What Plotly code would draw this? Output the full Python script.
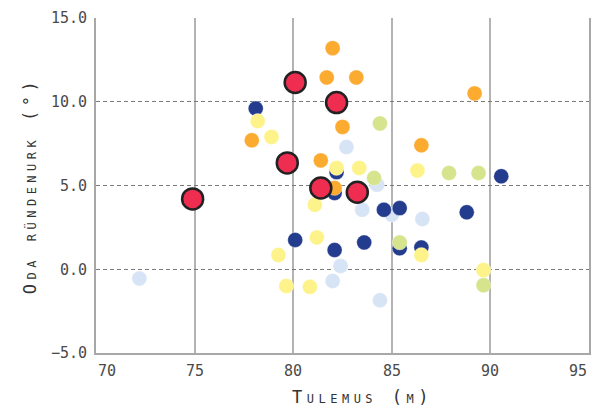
import plotly.graph_objects as go

# Measurements per group: distance (m) and release angle (degrees)
lightblue_x = [72.2, 82.7, 84.25, 83.5, 85.0, 86.55, 82.4, 82.0, 84.4]
lightblue_y = [-0.55, 7.3, 5.05, 3.55, 3.25, 3.0, 0.2, -0.7, -1.85]

blue_x = [78.1, 82.2, 82.1, 84.6, 85.4, 88.8, 90.55, 80.1, 82.1, 83.6, 85.4, 86.5]
blue_y = [9.6, 5.8, 4.55, 3.55, 3.65, 3.4, 5.55, 1.75, 1.15, 1.6, 1.25, 1.3]

green_x = [84.4, 84.1, 85.4, 87.9, 89.4, 89.65]
green_y = [8.7, 5.45, 1.6, 5.75, 5.75, -0.95]

yellow_x = [78.2, 78.9, 82.2, 83.35, 81.1, 81.2, 79.25, 79.65, 80.85, 86.3, 86.5, 89.65]
yellow_y = [8.85, 7.9, 6.05, 6.05, 3.85, 1.9, 0.85, -1.0, -1.05, 5.9, 0.85, -0.05]

orange_x = [82.0, 81.7, 83.2, 82.5, 77.9, 81.4, 82.1, 89.2, 86.5]
orange_y = [13.2, 11.45, 11.45, 8.5, 7.7, 6.5, 4.85, 10.5, 7.4]

red_x = [74.9, 80.1, 82.2, 79.7, 81.4, 83.25]
red_y = [4.2, 11.15, 9.95, 6.35, 4.85, 4.6]

x_ticks = [70, 75, 80, 85, 90, 95]
y_ticks = [-5, 0, 5, 10, 15]

groups = [
    (lightblue_x, lightblue_y, "#d6e4f5"),
    (blue_x, blue_y, "#243c8d"),
    (green_x, green_y, "#d5e48d"),
    (yellow_x, yellow_y, "#fdf38a"),
    (orange_x, orange_y, "#fbab30"),
]

fig = go.Figure()
for gx, gy, col in groups:
    fig.add_trace(go.Scatter(
        x=gx, y=gy, mode="markers",
        marker=dict(size=15, color=col, line=dict(color="rgba(255,255,255,0.6)", width=0.5)),
        showlegend=False, hoverinfo="x+y",
    ))

fig.add_trace(go.Scatter(
    x=red_x, y=red_y, mode="markers",
    marker=dict(size=21, color="#ee2d51", line=dict(color="#222222", width=2.5)),
    showlegend=False, hoverinfo="x+y",
))

mono = "DejaVu Sans Mono"
tick_font = dict(family=mono, size=15, color="#4a4a4a")
title_font = dict(family=mono, size=17, color="#333333", variant="small-caps")
spaced = "<span style='letter-spacing:4.5px'>{}</span>"

# x tick labels: first and last sit flush with the plot edges
for i, v in enumerate(x_ticks):
    anchor = "left" if i == 0 else ("right" if i == len(x_ticks) - 1 else "center")
    fig.add_annotation(
        x=v, xref="x", y=0, yref="paper", yanchor="top", yshift=-7,
        xanchor=anchor, text=str(v), showarrow=False, font=tick_font,
    )

# x axis title
fig.add_annotation(
    x=0.54, xref="paper", y=-0.13, yref="paper", xanchor="center", yanchor="middle",
    text=spaced.format("Tulemus (m)"), showarrow=False, font=title_font, borderpad=0,
)

fig.update_layout(
    width=594, height=408,
    margin=dict(l=96, r=5, t=18, b=55, autoexpand=False),
    paper_bgcolor="white", plot_bgcolor="white",
    font=dict(family=mono, size=15, color="#444444"),
    xaxis=dict(
        range=[70, 95], tickvals=x_ticks, showticklabels=False,
        showgrid=True, gridcolor="#b3b3b3", gridwidth=2,
        showline=True, linecolor="#a8a8a8", linewidth=2,
        zeroline=False, ticks="", automargin=False,
    ),
    yaxis=dict(
        range=[-5, 15], tickvals=y_ticks, tickformat=".1f",
        showgrid=True, gridcolor="#7a7a7a", gridwidth=1, griddash="4px,3px",
        showline=True, linecolor="#a8a8a8", linewidth=2, mirror=True,
        zeroline=False, ticks="", ticklabelstandoff=4, automargin=False,
        tickfont=tick_font,
        title=dict(text=spaced.format("Oda ründenurk (°)"), standoff=10, font=title_font),
    ),
)

fig.write_html("out.html")
